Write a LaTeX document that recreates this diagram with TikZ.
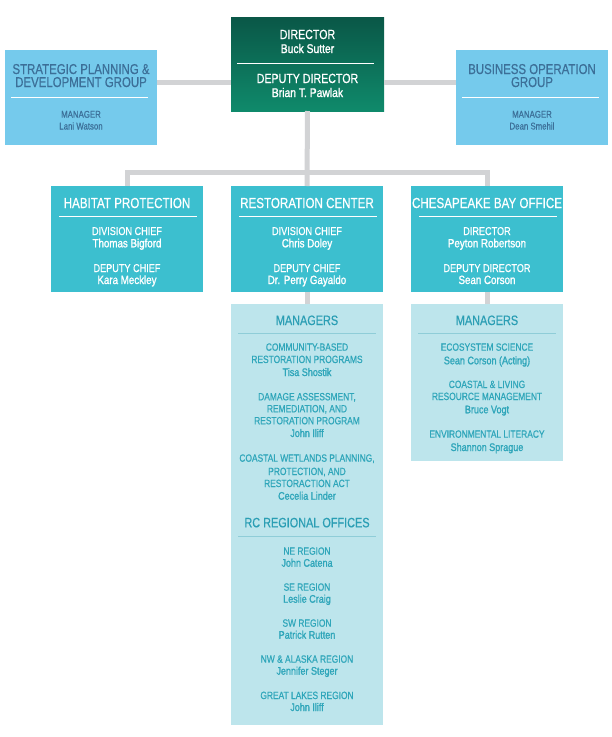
\documentclass[tikz,border=0pt]{standalone}
\usepackage{fontspec}
\setmainfont{Liberation Sans}[FakeStretch=0.8, FakeBold=0.6]
\newfontfamily\namefont{Liberation Sans}[FakeStretch=0.82, FakeBold=1.4]
\definecolor{conn}{HTML}{D2D3D5}
\definecolor{sfill}{HTML}{75CAEC}
\definecolor{stext}{HTML}{3C6F98}
\definecolor{dfill}{HTML}{3CBFCF}
\definecolor{mfill}{HTML}{BDE5EC}
\definecolor{mtext}{HTML}{2FA6BA}
\definecolor{mhead}{HTML}{2A9EB4}
\definecolor{mline}{HTML}{8FCDD8}
\definecolor{dirtop}{HTML}{0A5747}
\definecolor{dirbot}{HTML}{0F8A6B}
\newcounter{tn}
\newcommand\mytext[4]{\stepcounter{tn}\node[#1] (t\arabic{tn}) at (#2,#3) {#4};}
\tikzset{
  box/.style={anchor=north west, inner sep=0pt, outer sep=0pt, minimum width=152pt},
  sbox/.style={box, fill=sfill, minimum height=95pt},
  dirbox/.style={box, top color=dirtop, bottom color=dirbot, minimum width=153pt, minimum height=94pt},
  dbox/.style={box, fill=dfill, minimum height=106pt},
  mbox/.style={box, fill=mfill},
  conn/.style={draw=conn, line width=5pt},
  txt/.style={anchor=base, inner sep=0pt},
  dirhd/.style={txt, text=white, font=\fontsize{13.3}{15}\selectfont},
  dirnm/.style={txt, text=white, font=\namefont\fontsize{12.6}{14}\selectfont},
  shd/.style={txt, text=stext, font=\fontsize{14.3}{16}\selectfont},
  ssm/.style={txt, text=stext, font=\fontsize{9.8}{12}\selectfont},
  dhd/.style={txt, text=white, font=\fontsize{14.5}{16}\selectfont},
  dsm/.style={txt, text=white, font=\fontsize{11.4}{13}\selectfont},
  dnm/.style={txt, text=white, font=\namefont\fontsize{11.9}{13}\selectfont},
  mhd/.style={txt, text=mhead, font=\fontsize{13.6}{16}\selectfont},
  msm/.style={txt, text=mtext, font=\fontsize{10.5}{12}\selectfont},
  mnm/.style={txt, text=mtext, font=\namefont\fontsize{11}{12}\selectfont},
  wline/.style={draw=white, line width=1pt},
  mdiv/.style={draw=mline, line width=0.8pt},
}
\begin{document}
\begin{tikzpicture}[x=1pt,y=-1pt]
\useasboundingbox (0,0) rectangle (612,737);
% boxes
\node[dirbox] (dir) at (231,17) {};
\node[sbox] (strat) at (5,50) {};
\node[sbox] (bus) at (456,50) {};
\node[dbox] (hab) at (51,186) {};
\node[dbox] (rc) at (231,186) {};
\node[dbox] (cbo) at (411,186) {};
\node[mbox, minimum height=421pt] (rcm) at (231,304) {};
\node[mbox, minimum height=157pt] (cbom) at (411,304) {};
% connectors
\coordinate (busline) at (308,172);
\draw[conn] (strat.east |- 0,82) -- (dir.west |- 0,82);
\draw[conn] (dir.east |- 0,82) -- (bus.west |- 0,82);
\draw[conn] (dir.south) -- (rc.north);
\draw[conn] (hab.north) -- (hab.north |- busline) -- (cbo.north |- busline) -- (cbo.north);
\draw[conn] (rc.south) -- (rcm.north);
\draw[conn] (cbo.south) -- (cbom.north);
% dividers
\draw[wline] (237,63.5) -- (374,63.5);
\draw[wline] (11,97) -- (148,97);
\draw[wline] (462,97) -- (599,97);
\draw[wline] (59,216.5) -- (197,216.5);
\draw[wline] (239,216.5) -- (377,216.5);
\draw[wline] (419,216.5) -- (557,216.5);
\draw[mdiv] (238,333.5) -- (376,333.5);
\draw[mdiv] (418,333.5) -- (556,333.5);
\draw[mdiv] (238,536) -- (376,536);
% director
\mytext{dirhd}{307.5}{39}{DIRECTOR}
\mytext{dirnm}{307.5}{53}{Buck Sutter}
\mytext{dirhd}{307.5}{83}{DEPUTY DIRECTOR}
\mytext{dirnm}{307.5}{97}{Brian T. Pawlak}
% strategic
\mytext{shd}{81}{74}{STRATEGIC PLANNING \&}
\mytext{shd}{81}{87}{DEVELOPMENT GROUP}
\mytext{ssm}{81}{117.7}{MANAGER}
\mytext{ssm}{81}{129.5}{Lani Watson}
% business
\mytext{shd}{532}{74}{BUSINESS OPERATION}
\mytext{shd}{532}{87}{GROUP}
\mytext{ssm}{532}{117.7}{MANAGER}
\mytext{ssm}{532}{129.5}{Dean Smehil}
% habitat
\mytext{dhd}{127}{208}{HABITAT PROTECTION}
\mytext{dsm}{127}{235}{DIVISION CHIEF}
\mytext{dnm}{127}{247.3}{Thomas Bigford}
\mytext{dsm}{127}{272}{DEPUTY CHIEF}
\mytext{dnm}{127}{284}{Kara Meckley}
% restoration
\mytext{dhd}{307}{208}{RESTORATION CENTER}
\mytext{dsm}{307}{235}{DIVISION CHIEF}
\mytext{dnm}{307}{247.3}{Chris Doley}
\mytext{dsm}{307}{272}{DEPUTY CHIEF}
\mytext{dnm}{307}{284}{Dr. Perry Gayaldo}
% chesapeake
\mytext{dhd}{487}{208}{CHESAPEAKE BAY OFFICE}
\mytext{dsm}{487}{235}{DIRECTOR}
\mytext{dnm}{487}{247.3}{Peyton Robertson}
\mytext{dsm}{487}{272}{DEPUTY DIRECTOR}
\mytext{dnm}{487}{284}{Sean Corson}
% RC managers
\mytext{mhd}{307}{325}{MANAGERS}
\mytext{msm}{307}{350.7}{COMMUNITY-BASED}
\mytext{msm}{307}{363}{RESTORATION PROGRAMS}
\mytext{mnm}{307}{376}{Tisa Shostik}
\mytext{msm}{307}{400.3}{DAMAGE ASSESSMENT,}
\mytext{msm}{307}{412.3}{REMEDIATION, AND}
\mytext{msm}{307}{424.3}{RESTORATION PROGRAM}
\mytext{mnm}{307}{437}{John Iliff}
\mytext{msm}{307}{461.7}{COASTAL WETLANDS PLANNING,}
\mytext{msm}{307}{475}{PROTECTION, AND}
\mytext{msm}{307}{487}{RESTORACTION ACT}
\mytext{mnm}{307}{499.7}{Cecelia Linder}
\mytext{mhd}{307}{527.3}{RC REGIONAL OFFICES}
\mytext{msm}{307}{554.7}{NE REGION}
\mytext{mnm}{307}{566.7}{John Catena}
\mytext{msm}{307}{590.7}{SE REGION}
\mytext{mnm}{307}{602.7}{Leslie Craig}
\mytext{msm}{307}{626.7}{SW REGION}
\mytext{mnm}{307}{638.7}{Patrick Rutten}
\mytext{msm}{307}{662.7}{NW \& ALASKA REGION}
\mytext{mnm}{307}{674.7}{Jennifer Steger}
\mytext{msm}{307}{699}{GREAT LAKES REGION}
\mytext{mnm}{307}{711}{John Iliff}
% CBO managers
\mytext{mhd}{487}{325}{MANAGERS}
\mytext{msm}{487}{350.7}{ECOSYSTEM SCIENCE}
\mytext{mnm}{487}{364.3}{Sean Corson (Acting)}
\mytext{msm}{487}{388}{COASTAL \& LIVING}
\mytext{msm}{487}{400}{RESOURCE MANAGEMENT}
\mytext{mnm}{487}{413.3}{Bruce Vogt}
\mytext{msm}{487}{437.7}{ENVIRONMENTAL LITERACY}
\mytext{mnm}{487}{451}{Shannon Sprague}
\end{tikzpicture}
\end{document}
